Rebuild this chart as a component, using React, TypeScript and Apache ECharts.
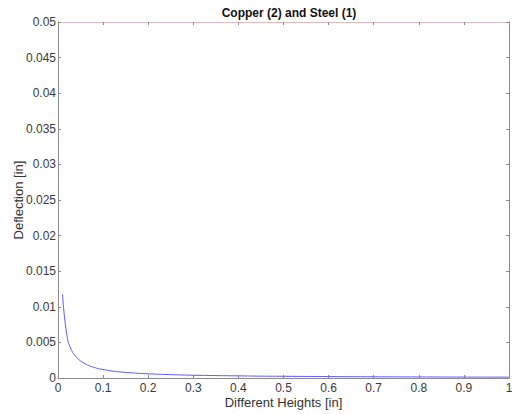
import React, { useEffect, useRef } from "react";
import * as echarts from "echarts";

const heights = [0.01, 0.02, 0.03, 0.04, 0.05, 0.06, 0.07, 0.08, 0.09, 0.1, 0.12, 0.14, 0.16, 0.18, 0.2, 0.25, 0.3, 0.35, 0.4, 0.45, 0.5, 0.6, 0.7, 0.8, 0.9, 1.0];
const deflection = [0.0118, 0.0059, 0.0039, 0.003, 0.0024, 0.002, 0.0017, 0.0015, 0.0013, 0.0012, 0.00098, 0.00084, 0.00074, 0.00066, 0.00059, 0.00047, 0.00039, 0.00034, 0.0003, 0.00026, 0.00024, 0.0002, 0.00017, 0.00015, 0.00013, 0.00012];
const titleText = "Copper (2) and Steel (1)";
const xName = "Different Heights [in]";
const yName = "Deflection [in]";

export default function App() {
  const ref = useRef<HTMLDivElement>(null);
  useEffect(() => {
    if (!ref.current) return;
    const chart = echarts.init(ref.current, undefined, { renderer: "svg" });
    const font = "Liberation Sans, Arial, sans-serif";
    const axisColor = "#8c8c8c";
    const labelStyle = { color: "#3a3a3a", fontSize: 12, fontFamily: font };
    chart.setOption({
      animation: false,
      backgroundColor: "#fff",
      title: {
        text: titleText,
        left: 284,
        top: 2,
        textAlign: "center",
        textStyle: { fontSize: 12, fontWeight: "bold", color: "#111", fontFamily: font },
      },
      grid: { left: 58, right: 3, top: 22, bottom: 36, containLabel: false, outerBoundsMode: "none" },
      xAxis: [
        {
          type: "value",
          min: 0,
          max: 1,
          interval: 0.1,
          name: xName,
          nameLocation: "middle",
          nameGap: 18,
          nameMoveOverlap: false,
          nameTextStyle: { fontSize: 13, color: "#333", fontFamily: font },
          axisLine: { onZero: false, lineStyle: { color: axisColor } },
          axisTick: { inside: true, length: 3, lineStyle: { color: axisColor } },
          axisLabel: { ...labelStyle, margin: 4 },
          splitLine: { show: false },
        },
        {
          type: "value",
          position: "top",
          min: 0,
          max: 1,
          interval: 0.1,
          axisLine: { show: true, onZero: false, lineStyle: { color: "#e3bcbc" } },
          axisTick: { inside: true, length: 3, lineStyle: { color: axisColor } },
          axisLabel: { show: false },
          splitLine: { show: false },
        },
      ],
      yAxis: [
        {
          type: "value",
          min: 0,
          max: 0.05,
          interval: 0.005,
          name: yName,
          nameLocation: "middle",
          nameGap: 33,
          nameMoveOverlap: false,
          nameTextStyle: { fontSize: 13, color: "#333", fontFamily: font },
          axisLine: { show: true, onZero: false, lineStyle: { color: axisColor } },
          axisTick: { show: true, inside: true, length: 3, lineStyle: { color: axisColor } },
          axisLabel: { ...labelStyle, margin: 2 },
          splitLine: { show: false },
        },
        {
          type: "value",
          position: "right",
          min: 0,
          max: 0.05,
          interval: 0.005,
          axisLine: { show: true, onZero: false, lineStyle: { color: axisColor } },
          axisTick: { show: true, inside: true, length: 3, lineStyle: { color: axisColor } },
          axisLabel: { show: false },
          splitLine: { show: false },
        },
      ],
      series: [
        {
          type: "line",
          data: heights.map((h, i) => [h, deflection[i]]),
          showSymbol: false,
          smooth: true,
          lineStyle: { color: "#5a5aff", width: 1 },
        },
      ],
    });
    return () => chart.dispose();
  }, []);
  return <div ref={ref} style={{ position: "absolute", left: 0, top: 0, width: 512, height: 414 }} />;
}
